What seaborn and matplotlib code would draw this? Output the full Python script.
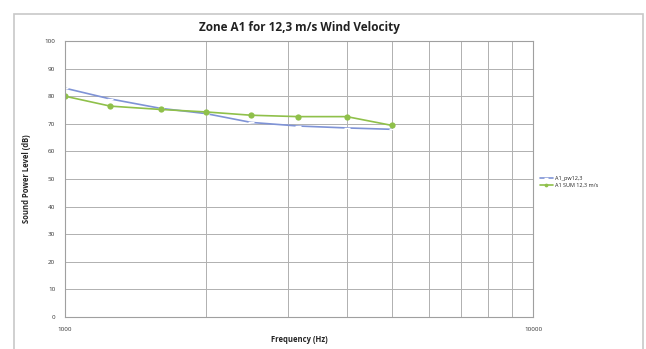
import matplotlib
matplotlib.use("Agg")
import matplotlib.pyplot as plt
from matplotlib.patches import Rectangle
from matplotlib.ticker import FixedLocator, NullFormatter, LogLocator
import numpy as np
import pandas as pd
import seaborn as sns

# One-third octave band centre frequencies (Hz)
frequencies = [1000, 1250, 1600, 2000, 2500, 3150, 4000, 5000]

# Sound power level per band (dB)
a1_pw = [82.9, 79.0, 75.6, 73.7, 70.5, 69.2, 68.5, 68.0]
a1_sum = [80.0, 76.4, 75.2, 74.3, 73.1, 72.6, 72.6, 69.4]

series_names = ["A1_pw12,3", "A1 SUM 12,3 m/s"]
series_colors = ["#7f93d6", "#8fc04a"]

y_ticks = list(range(0, 101, 10))
x_tick_labels = ["1000", "10000"]

df = pd.DataFrame({
    "freq": frequencies * 2,
    "level": a1_pw + a1_sum,
    "series": [series_names[0]] * len(frequencies) + [series_names[1]] * len(frequencies),
})

sns.set_style("white")
plt.rcParams["font.family"] = ["Open Sans", "DejaVu Sans"]

fig = plt.figure(figsize=(6.46, 3.49), dpi=100)
ax = fig.add_axes([65 / 646, 32 / 349, 468 / 646, 276 / 349])

# outer chart frame
fig.patches.append(Rectangle((14 / 646, -2 / 349), 629 / 646, 337 / 349,
                             transform=fig.transFigure, fill=False,
                             edgecolor="#c8c8c8", linewidth=1.2))

sns.lineplot(data=df[df.series == series_names[0]], x="freq", y="level",
             color=series_colors[0], linewidth=1.2, marker="_", markersize=4,
             markeredgewidth=1.0, ax=ax, label=series_names[0])
sns.lineplot(data=df[df.series == series_names[1]], x="freq", y="level",
             color=series_colors[1], linewidth=1.2, marker="o", markersize=4.5,
             markeredgewidth=0, ax=ax, label=series_names[1])

ax.set_xscale("log")
ax.set_xlim(1000, 10000)
ax.set_ylim(0, 100)
ax.xaxis.set_major_locator(FixedLocator([1000, 10000]))
ax.set_xticklabels(x_tick_labels)
ax.xaxis.set_minor_locator(LogLocator(base=10, subs=np.arange(2, 10)))
ax.xaxis.set_minor_formatter(NullFormatter())
ax.set_yticks(y_ticks)

ax.grid(True, which="both", color="#b0b0b0", linewidth=0.7)
ax.set_axisbelow(True)
for side, sp in ax.spines.items():
    sp.set_color("#a0a0a0")
    sp.set_linewidth(0.8)

ax.tick_params(axis="both", which="major", labelsize=4.5, length=2,
               color="#a0a0a0", labelcolor="#333333", pad=5)
ax.tick_params(axis="x", which="minor", length=0)

ax.set_xlabel("Frequency (Hz)", fontsize=5.5, fontweight="bold", labelpad=2)
ax.set_ylabel("Sound Power Level (dB)", fontsize=5.5, fontweight="bold", labelpad=10)
fig.text(299 / 646, 1 - 27 / 349, "Zone A1 for 12,3 m/s Wind Velocity",
         ha="center", va="center", fontsize=8.5, fontweight="bold", color="#222222")

ax.legend(loc="center left", bbox_to_anchor=(1.005, 0.49), frameon=False,
          fontsize=4, handlelength=2.2, handletextpad=0.4, labelspacing=0.4,
          markerscale=0.6)

fig.savefig("out.png", dpi=100)
